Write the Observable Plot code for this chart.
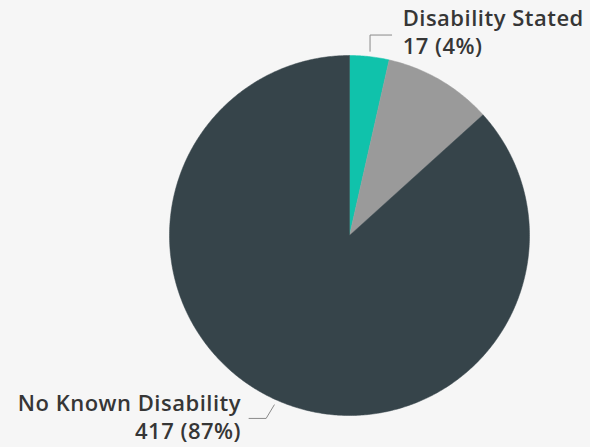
<!DOCTYPE html>
<html>
<head>
<meta charset="utf-8">
<script src="https://cdn.jsdelivr.net/npm/d3@7"></script>
<script src="https://cdn.jsdelivr.net/npm/@observablehq/plot@0.6"></script>
<style>
  html, body { margin: 0; padding: 0; background: #f6f6f6; }
  #chart svg { display: block; }
</style>
</head>
<body>
<div id="chart"></div>
<script>
// Data
const categories = ["Disability Stated", "Not Stated", "No Known Disability"];
const counts = [17, 47, 417];
const percents = ["4%", "9%", "87%"];
const colors = ["#10c2ab", "#9a9a9a", "#36444a"];

const total = d3.sum(counts);
// angles (radians), clockwise from top
let acc = 0;
const slices = categories.map((c, i) => {
  const a0 = acc / total * 2 * Math.PI;
  acc += counts[i];
  const a1 = acc / total * 2 * Math.PI;
  return {category: c, count: counts[i], pct: percents[i], a0, a1, mid: (a0 + a1) / 2};
});

// polygon points for each slice (center + arc samples)
const polyPts = [];
for (const s of slices) {
  polyPts.push({category: s.category, x: 0, y: 0});
  const n = Math.max(2, Math.ceil((s.a1 - s.a0) / 0.01));
  for (let k = 0; k <= n; k++) {
    const a = s.a0 + (s.a1 - s.a0) * k / n;
    polyPts.push({category: s.category, x: Math.sin(a), y: Math.cos(a)});
  }
  polyPts.push({category: s.category, x: 0, y: 0});
}

const polar = (a, r) => ({x: Math.sin(a) * r, y: Math.cos(a) * r});

// Leader lines (start at slice edge, bend, end)
const sTeal = slices[0];
const pT = polar(sTeal.mid, 1.03);
const leaderTeal = [
  {x: pT.x, y: pT.y}, {x: pT.x, y: pT.y + 0.09}, {x: pT.x + 0.12, y: pT.y + 0.09}
];
const sDark = slices[2];
const pD = polar(sDark.mid, 1.03);
const leaderDark = [
  {x: pD.x, y: pD.y}, {x: pD.x - 0.045, y: pD.y - 0.075}, {x: pD.x - 0.14, y: pD.y - 0.075}
];
const endT = leaderTeal[2], endD = leaderDark[2];

const font = "'Open Sans', 'DejaVu Sans', sans-serif";
const fs = 22, fw = 600, tc = "#363636";

const plot = Plot.plot({
  width: 590,
  height: 447,
  marginLeft: 169,
  marginRight: 61,
  marginTop: 55,
  marginBottom: 32,
  style: {background: "#f6f6f6", fontFamily: font, overflow: "visible", letterSpacing: "0.5px"},
  x: {domain: [-1, 1], axis: null},
  y: {domain: [-1, 1], axis: null},
  color: {domain: categories, range: colors},
  marks: [
    Plot.line(polyPts, {x: "x", y: "y", z: "category", fill: "category", stroke: "category", strokeWidth: 0.5, curve: "linear"}),
    Plot.line(leaderTeal, {x: "x", y: "y", stroke: "#8a8a8a", strokeWidth: 1}),
    Plot.line(leaderDark, {x: "x", y: "y", stroke: "#8a8a8a", strokeWidth: 1}),
    Plot.text([sTeal], {x: () => endT.x, y: () => endT.y, text: d => d.category, dx: 11, dy: -9.5,
      textAnchor: "start", lineAnchor: "bottom", fontSize: fs, fontWeight: fw, fill: tc}),
    Plot.text([sTeal], {x: () => endT.x, y: () => endT.y, text: d => `${d.count} (${d.pct})`, dx: 11, dy: 18.5,
      textAnchor: "start", lineAnchor: "bottom", fontSize: fs, fontWeight: fw, fill: tc}),
    Plot.text([sDark], {x: () => endD.x, y: () => endD.y, text: d => d.category, dx: -8, dy: -7,
      textAnchor: "end", lineAnchor: "bottom", fontSize: fs, fontWeight: fw, fill: tc}),
    Plot.text([sDark], {x: () => endD.x, y: () => endD.y, text: d => `${d.count} (${d.pct})`, dx: -8, dy: 20.5,
      textAnchor: "end", lineAnchor: "bottom", fontSize: fs, fontWeight: fw, fill: tc})
  ]
});
document.getElementById("chart").appendChild(plot);
</script>
</body>
</html>
